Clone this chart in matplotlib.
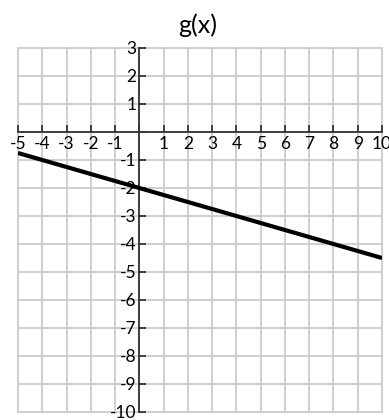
import numpy as np
import matplotlib
matplotlib.use('Agg')
import matplotlib.pyplot as plt

# line g(x) = -x/4 - 2, endpoints
x_vals = [-5, 10]
y_vals = [-0.75, -4.5]

x_ticks = list(range(-5, 11))
y_ticks = list(range(-10, 4))

plt.rcParams['font.family'] = ['Lato', 'DejaVu Sans']

fig = plt.figure(figsize=(3.89, 4.20), dpi=100)
ax = fig.add_axes([18 / 389, 8 / 420, 364 / 389, 364 / 420])

ax.set_xlim(-5, 10)
ax.set_ylim(-10, 3)

# grid
for xv in x_ticks:
    ax.axvline(xv, color='#cccccc', lw=1.3, zorder=0, clip_on=False)
for yv in y_ticks:
    ax.axhline(yv, color='#cccccc', lw=1.3, zorder=0, clip_on=False)

ax.spines['left'].set_position('zero')
ax.spines['bottom'].set_position('zero')
ax.spines['top'].set_visible(False)
ax.spines['right'].set_visible(False)
for s in ['left', 'bottom']:
    ax.spines[s].set_color('#333333')
    ax.spines[s].set_linewidth(1.3)
    ax.spines[s].set_zorder(2)

ax.set_xticks(x_ticks)
ax.set_yticks(y_ticks)
ax.set_xticklabels(['' if v == 0 else str(v) for v in x_ticks])
ax.set_yticklabels(['' if v == 0 else str(v) for v in y_ticks])
ax.tick_params(axis='x', direction='in', length=5, width=1.3, color='#333333',
               labelsize=12.5, pad=3)
ax.tick_params(axis='y', direction='in', length=5, width=1.3, color='#333333',
               labelsize=12.5, pad=2)

ax.plot(x_vals, y_vals, color='black', lw=3, solid_capstyle='butt', zorder=3)

fig.text(198 / 389, 1 - 25 / 420, 'g(x)', ha='center', va='center', fontsize=18)

plt.savefig('out.png', dpi=100)
